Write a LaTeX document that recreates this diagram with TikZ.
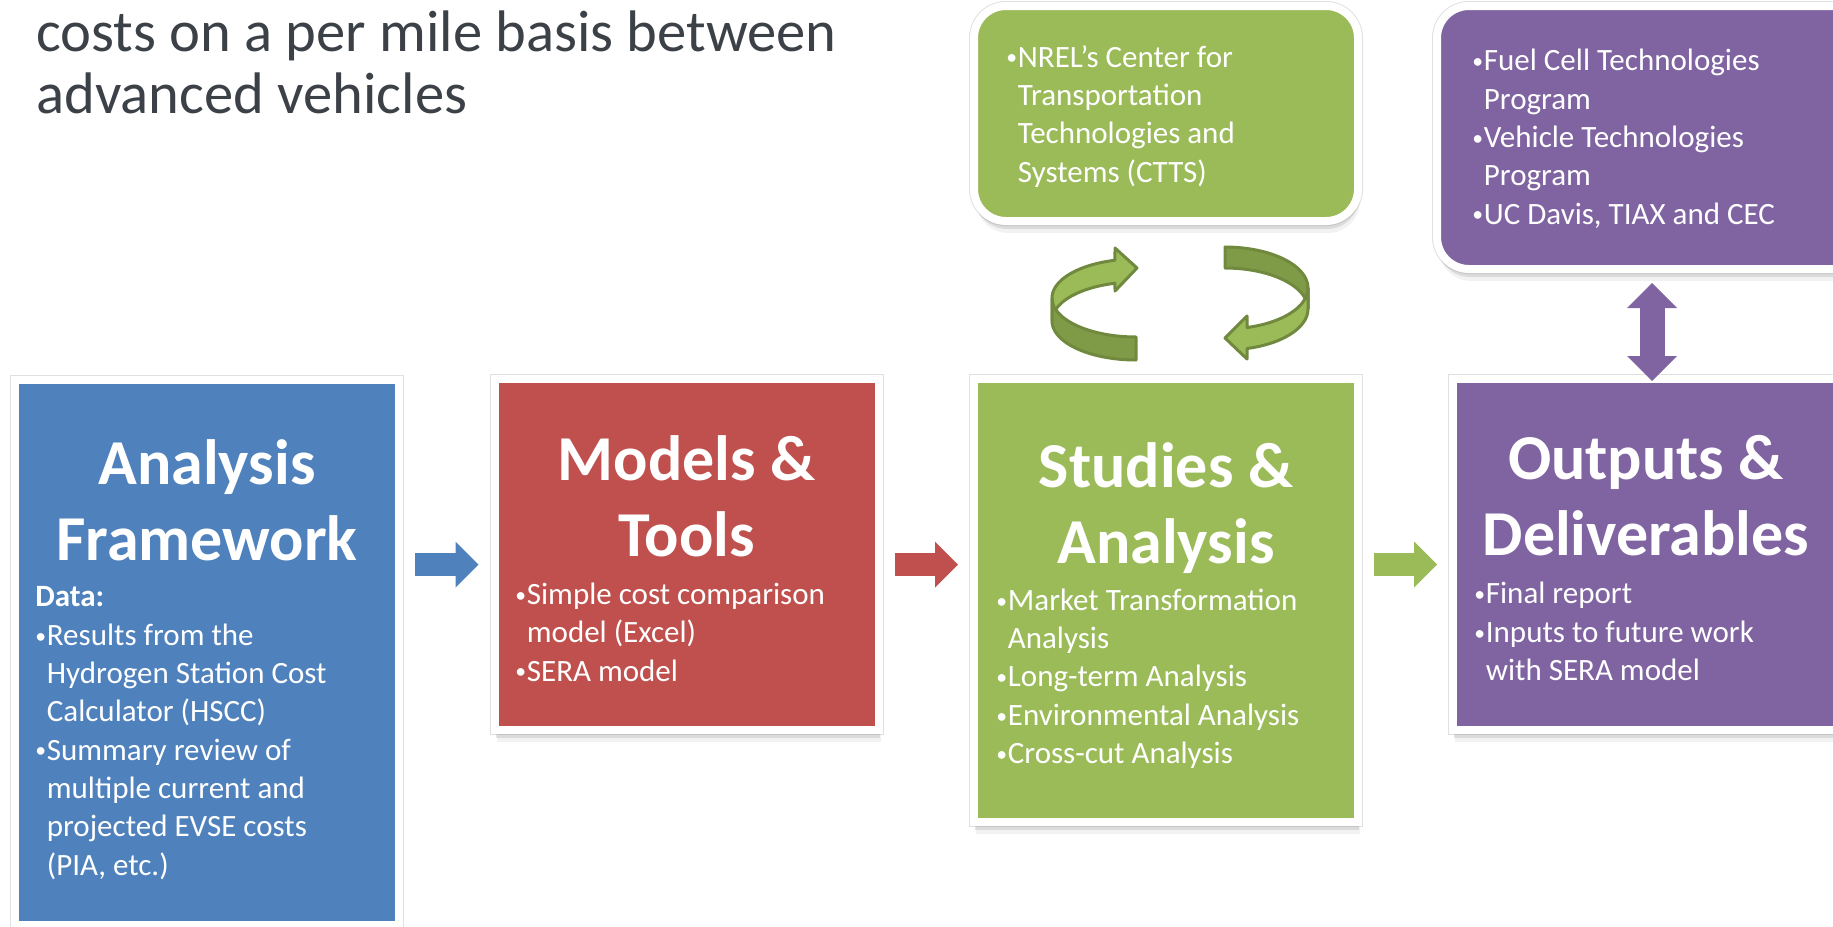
\documentclass[tikz,border=0pt]{standalone}
\usepackage{fontspec}
\usepackage{graphicx}
\setmainfont{Carlito}
\usetikzlibrary{arrows.meta,shadows,calc}

\definecolor{afblue}{HTML}{4F81BD}
\definecolor{mtred}{HTML}{C0504D}
\definecolor{sagreen}{HTML}{9BBB59}
\definecolor{odpurple}{HTML}{8064A2}
\definecolor{loopdark}{HTML}{7F9B47}
\definecolor{looprim}{HTML}{71893F}
\definecolor{leadgray}{HTML}{3C4148}

\newcommand{\itm}{\makebox[5.75pt][l]{\raisebox{.07em}{\scalebox{.7}{\textbullet}}}}
\newcommand{\cnt}{\hspace*{5.75pt}}

\tikzset{
  stage/.style={rectangle, fill=#1, draw=white, line width=4pt, inner sep=0pt,
    minimum width=192pt,
    preaction={draw=black!12, line width=5pt},
    drop shadow={shadow xshift=0.5pt, shadow yshift=-4pt, opacity=.2},
    drop shadow={shadow xshift=1pt, shadow yshift=-6pt, opacity=.1}},
  heading/.style={text=white, font=\bfseries\fontsize{32}{38}\selectfont,
    align=center, inner sep=0pt, anchor=base},
  items/.style={text=white, font=\fontsize{15.5}{19.15}\selectfont,
    align=left, inner sep=0pt, anchor=base west},
  flow/.style={draw=#1, line width=11.5pt,
    -{Triangle[length=11.5pt, width=23pt, line width=0pt]}},
  link/.style={draw=#1, line width=12.5pt,
    {Triangle[length=12.5pt, width=25pt, line width=0pt]}-{Triangle[length=12.5pt, width=25pt, line width=0pt]}},
  loop back/.style={fill=#1, draw=looprim, line width=1.5pt, line join=round},
}

\begin{document}
\begin{tikzpicture}[x=0.5pt,y=-0.5pt]
\clip (0,0) rectangle (1833,927);

% multi-line nodes sit on the baseline of their last line
\node[anchor=base west, inner sep=0pt, align=left, text=leadgray,
  font=\fontsize{29.3}{30.75}\selectfont] (lead) at (36,113)
  {costs on a per mile basis between\\advanced vehicles};

% the four stages
\node[stage=afblue, minimum height=272.5pt] (af) at (207,652.5) {};
\node[stage=mtred, minimum height=175.5pt] (mt) at (686.5,554.5) {};
\node[stage=sagreen, minimum height=221.5pt] (sa) at (1166,600.5) {};
\node[stage=odpurple, minimum height=175.5pt] (od) at (1645,554.5) {};

% partners on top
\node[stage=sagreen, rounded corners=16pt, minimum height=107.5pt] (ctts) at (1166,113.5) {};
\node[stage=odpurple, rounded corners=16pt, minimum width=220pt,
  minimum height=131.5pt] (prog) at (1657,137.5) {};

\node[heading] (aft) at (207,560) {Analysis\\Framework};
\node[heading] (mtt) at (686.5,556.5) {Models \&\\Tools};
\node[heading] (sat) at (1166,563.5) {Studies \&\\Analysis};
\node[heading] (odt) at (1646,555) {Outputs \&\\Deliverables};

\node[items] (afl) at (35,875) {\textbf{Data:}\\\itm Results from the\\\cnt Hydrogen Station Cost\\\cnt Calculator (HSCC)\\\itm Summary review of\\\cnt multiple current and\\\cnt projected EVSE costs\\\cnt (PIA, etc.)};
\node[items] (mtl) at (515,681) {\itm Simple cost comparison\\\cnt model (Excel)\\\itm SERA model};
\node[items] (sal) at (996,763.5) {\itm Market Transformation\\\cnt Analysis\\\itm Long-term Analysis\\\itm Environmental Analysis\\\itm Cross-cut Analysis};
\node[items] (odl) at (1474,680.5) {\itm Final report\\\itm Inputs to future work\\\cnt with SERA model};
\node[items] (cttsl) at (1006,182) {\itm NREL’s Center for\\\cnt Transportation\\\cnt Technologies and\\\cnt Systems (CTTS)};
\node[items] (progl) at (1472,224) {\itm Fuel Cell Technologies\\\cnt Program\\\itm Vehicle Technologies\\\cnt Program\\\itm UC Davis, TIAX and CEC};

\coordinate (lane) at (0,564.5);
\draw[flow=afblue] ($(af.east |- lane)+(12,0)$) -- ($(mt.west |- lane)+(-12,0)$);
\draw[flow=mtred] ($(mt.east |- lane)+(12,0)$) -- ($(sa.west |- lane)+(-12,0)$);
\draw[flow=sagreen] ($(sa.east |- lane)+(12,0)$) -- ($(od.west |- lane)+(-12,0)$);
\draw[link=odpurple] ($(prog.south)+(-5,10)$) -- ($(od.north)+(7,6)$);

% the two turning arrows
\filldraw[loop back=sagreen] plot[domain=180:255.5, samples=25] ({1136+84*cos(\x)},{298+39*sin(\x)})
  -- (1115,248) -- (1137,268) -- (1115,291)
  -- plot[domain=255.5:180, samples=25] ({1136+84*cos(\x)},{321+39*sin(\x)}) -- cycle;
\filldraw[loop back=loopdark] plot[domain=90:180, samples=25] ({1136+84*cos(\x)},{298+39*sin(\x)})
  -- plot[domain=180:90, samples=25] ({1136+84*cos(\x)},{321+39*sin(\x)}) -- cycle;
\filldraw[loop back=loopdark] plot[domain=270:360, samples=25] ({1225+83*cos(\x)},{288+41*sin(\x)})
  -- plot[domain=360:270, samples=25] ({1225+83*cos(\x)},{309+41*sin(\x)}) -- cycle;
\filldraw[loop back=sagreen] plot[domain=0:74.6, samples=25] ({1225+83*cos(\x)},{288+41*sin(\x)})
  -- (1247,316) -- (1225,338) -- (1247,359)
  -- plot[domain=74.6:0, samples=25] ({1225+83*cos(\x)},{309+41*sin(\x)}) -- cycle;
\end{tikzpicture}
\end{document}
